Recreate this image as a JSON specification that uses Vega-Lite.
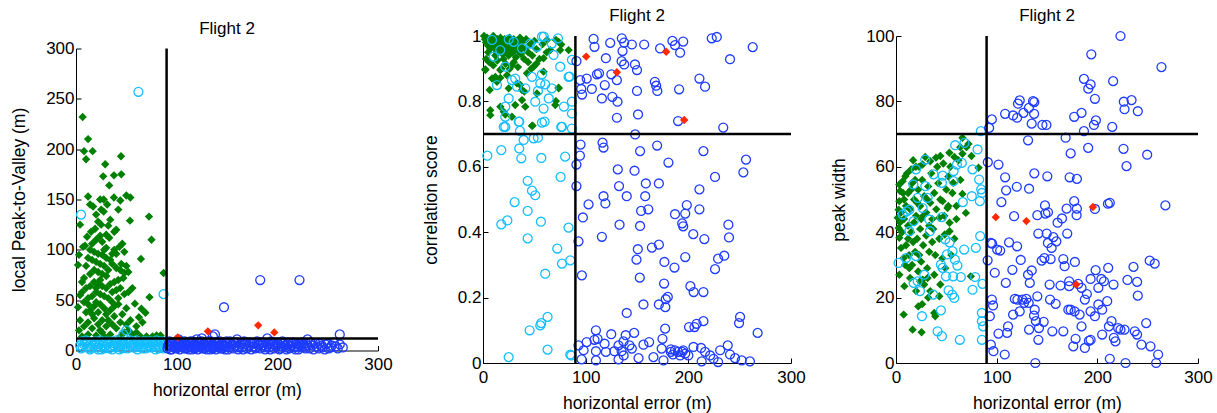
{
"$schema": "https://vega.github.io/schema/vega-lite/v6.json",
"padding": {"left": 10, "top": 7, "right": 5, "bottom": 5},
"spacing": 105,
"bounds": "flush",
"center": true,
"config": {
  "font": "Liberation Sans",
  "view": {"stroke": null},
  "axis": {"grid": false, "domainColor": "#000", "tickColor": "#000", "labelColor": "#000", "titleColor": "#000", "labelFontSize": 17, "titleFontSize": 17.5, "titleFontWeight": "normal", "tickSize": -5, "labelFlush": false, "labelOverlap": false, "labelFont": "Liberation Sans", "titleFont": "Liberation Sans"},
  "axisX": {"titlePadding": 9, "labelPadding": 11},
  "axisY": {"titlePadding": 17, "labelPadding": 7},
  "title": {"fontSize": 17, "fontWeight": "normal", "color": "#000", "offset": 2, "font": "Liberation Sans"}
},
"datasets": {
"p1g": [{"x":6.6,"y":232},{"x":12,"y":210},{"x":8,"y":198},{"x":16.5,"y":198},{"x":10,"y":190},{"x":29,"y":185},{"x":44.7,"y":193},{"x":37.7,"y":174},{"x":45,"y":175},{"x":27,"y":173},{"x":33,"y":164},{"x":12,"y":153},{"x":24,"y":150},{"x":27.5,"y":150},{"x":37.7,"y":152},{"x":44,"y":149},{"x":50,"y":154},{"x":54,"y":152},{"x":14,"y":145},{"x":17,"y":143},{"x":25,"y":140},{"x":27.5,"y":138},{"x":72.5,"y":133},{"x":53.6,"y":129},{"x":22,"y":128},{"x":32,"y":124},{"x":4,"y":125},{"x":75,"y":110},{"x":19,"y":121},{"x":11,"y":113},{"x":24,"y":114},{"x":30,"y":115},{"x":7,"y":103},{"x":43,"y":103},{"x":46,"y":106},{"x":64.5,"y":91},{"x":3,"y":95},{"x":2,"y":85},{"x":50,"y":84},{"x":48,"y":77},{"x":87,"y":77},{"x":73,"y":53},{"x":58.5,"y":46.5},{"x":65,"y":41.5},{"x":69,"y":37.5},{"x":62.5,"y":33},{"x":2,"y":43},
{"x":15,"y":118},{"x":20,"y":110},{"x":26,"y":108},{"x":33,"y":112},{"x":38,"y":100},{"x":40,"y":96},{"x":14,"y":100},{"x":18,"y":98},{"x":22,"y":96},{"x":26,"y":95},{"x":30,"y":92},{"x":34,"y":90},{"x":12,"y":92},{"x":16,"y":90},{"x":20,"y":88},{"x":24,"y":86},{"x":28,"y":84},{"x":10,"y":84},{"x":36,"y":86},{"x":40,"y":82},{"x":44,"y":80},{"x":47,"y":72},{"x":42,"y":70},{"x":38,"y":68},{"x":8,"y":72},{"x":6,"y":68},{"x":18,"y":80},{"x":22,"y":78},{"x":26,"y":76},{"x":30,"y":74},{"x":14,"y":76},{"x":34,"y":66},{"x":30,"y":62},{"x":26,"y":64},{"x":22,"y":66},{"x":18,"y":68},{"x":14,"y":64},{"x":10,"y":62},{"x":6,"y":58},{"x":20,"y":58},{"x":24,"y":56},{"x":28,"y":54},{"x":16,"y":54},{"x":12,"y":52},{"x":32,"y":52},{"x":36,"y":58},{"x":40,"y":60},{"x":44,"y":62},{"x":48,"y":56},{"x":52,"y":58},{"x":20,"y":48},{"x":24,"y":46},{"x":18,"y":44},{"x":28,"y":42},{"x":14,"y":40},{"x":10,"y":38},{"x":22,"y":38},{"x":30,"y":36},{"x":34,"y":40},{"x":38,"y":44},{"x":42,"y":46},{"x":50,"y":42},{"x":46,"y":36},{"x":54,"y":30},{"x":26,"y":30},{"x":18,"y":32},{"x":12,"y":28},{"x":8,"y":24},{"x":16,"y":22},{"x":22,"y":26},{"x":30,"y":24},{"x":36,"y":26},{"x":40,"y":22},{"x":44,"y":28},{"x":48,"y":18},{"x":52,"y":20},{"x":56,"y":16},{"x":60,"y":18},{"x":64,"y":14},{"x":70,"y":14},{"x":76,"y":14},{"x":84,"y":15},{"x":6,"y":14},{"x":12,"y":16},{"x":20,"y":15},{"x":28,"y":14},{"x":34,"y":16},{"x":24,"y":20},{"x":32,"y":30},{"x":38,"y":34},{"x":4,"y":30},{"x":30,"y":102},{"x":36,"y":96},{"x":32,"y":80},{"x":24,"y":70},{"x":42,"y":52},{"x":8,"y":48},{"x":16,"y":36},{"x":26,"y":18},{"x":50,"y":26},{"x":60,"y":24},{"x":66,"y":28},{"x":3,"y":20},{"x":80,"y":15},{"x":44,"y":14},{"x":28,"y":100},{"x":16,"y":106},{"x":34,"y":130},{"x":40,"y":120},{"x":20,"y":135},{"x":31,"y":145},{"x":38,"y":118},{"x":48,"y":98},{"x":52,"y":78},{"x":56,"y":62},{"x":20,"y":62},{"x":12,"y":46},{"x":36,"y":48},{"x":4,"y":55},{"x":9,"y":104},{"x":25,"y":125},{"x":42,"y":140},{"x":45,"y":86}],
"p1c": [{"x":5,"y":135},{"x":62,"y":257},{"x":87,"y":56},{"x":50,"y":20},{"x":47,"y":16},{"x":4,"y":5},{"x":7,"y":3},{"x":9,"y":8},{"x":11,"y":4},{"x":13,"y":2},{"x":15,"y":7},{"x":17,"y":5},{"x":19,"y":9},{"x":21,"y":3},{"x":23,"y":6},{"x":25,"y":1},{"x":27,"y":8},{"x":29,"y":4},{"x":31,"y":6},{"x":33,"y":2},{"x":35,"y":9},{"x":37,"y":5},{"x":39,"y":3},{"x":41,"y":7},{"x":43,"y":1},{"x":45,"y":6},{"x":47,"y":9},{"x":49,"y":4},{"x":51,"y":2},{"x":53,"y":7},{"x":55,"y":5},{"x":57,"y":8},{"x":59,"y":3},{"x":61,"y":1},{"x":63,"y":6},{"x":65,"y":4},{"x":67,"y":9},{"x":69,"y":2},{"x":71,"y":7},{"x":73,"y":5},{"x":75,"y":3},{"x":77,"y":8},{"x":79,"y":1},{"x":81,"y":6},{"x":83,"y":4},{"x":85,"y":9},{"x":87,"y":2},{"x":89,"y":5},{"x":6,"y":9},{"x":14,"y":1},{"x":24,"y":10},{"x":34,"y":4},{"x":44,"y":3},{"x":54,"y":10},{"x":64,"y":8},{"x":74,"y":9},{"x":84,"y":7},{"x":88,"y":8},{"x":10,"y":10},{"x":20,"y":6},{"x":30,"y":9},{"x":40,"y":10},{"x":60,"y":10},{"x":80,"y":10},{"x":50,"y":8},
{"x":5,"y":2},{"x":8,"y":6},{"x":12,"y":9},{"x":16,"y":3},{"x":18,"y":7},{"x":22,"y":1},{"x":26,"y":5},{"x":28,"y":2},{"x":32,"y":8},{"x":36,"y":1},{"x":38,"y":7},{"x":42,"y":5},{"x":46,"y":2},{"x":48,"y":6},{"x":52,"y":9},{"x":56,"y":3},{"x":58,"y":6},{"x":62,"y":4},{"x":66,"y":2},{"x":68,"y":6},{"x":70,"y":9},{"x":72,"y":3},{"x":76,"y":6},{"x":78,"y":4},{"x":82,"y":2},{"x":86,"y":5},{"x":89,"y":9}],
"p1b": [{"x":183,"y":70},{"x":222,"y":70},{"x":147,"y":43},{"x":138,"y":16},{"x":190,"y":12},{"x":262,"y":16},{"x":265,"y":3},{"x":125,"y":12},{"x":102,"y":11},{"x":136,"y":14},{"x":120,"y":11},{"x":160,"y":11},{"x":230,"y":11},
{"x":91,"y":2},{"x":92,"y":6},{"x":93,"y":9},{"x":94,"y":4},{"x":95,"y":1},{"x":96,"y":7},{"x":97,"y":3},{"x":98,"y":8},{"x":99,"y":5},{"x":100,"y":2},{"x":101,"y":9},{"x":102,"y":6},{"x":103,"y":1},{"x":104,"y":4},{"x":105,"y":8},{"x":106,"y":3},{"x":107,"y":6},{"x":108,"y":9},{"x":109,"y":2},{"x":110,"y":5},{"x":111,"y":8},{"x":112,"y":1},{"x":113,"y":4},{"x":114,"y":7},{"x":115,"y":3},{"x":116,"y":9},{"x":117,"y":6},{"x":118,"y":2},{"x":119,"y":5},{"x":120,"y":8},{"x":121,"y":1},{"x":122,"y":4},{"x":123,"y":7},{"x":124,"y":3},{"x":125,"y":9},{"x":126,"y":6},{"x":127,"y":2},{"x":128,"y":5},{"x":129,"y":8},{"x":130,"y":1},{"x":131,"y":4},{"x":132,"y":7},{"x":133,"y":3},{"x":134,"y":9},{"x":135,"y":6},{"x":136,"y":2},{"x":137,"y":5},{"x":138,"y":8},{"x":139,"y":1},{"x":140,"y":4},{"x":141,"y":7},{"x":142,"y":3},{"x":143,"y":9},{"x":144,"y":6},{"x":145,"y":2},{"x":146,"y":5},{"x":147,"y":8},{"x":148,"y":1},{"x":149,"y":4},{"x":150,"y":7},{"x":152,"y":3},{"x":153,"y":9},{"x":155,"y":6},{"x":156,"y":2},{"x":158,"y":5},{"x":159,"y":8},{"x":161,"y":1},{"x":162,"y":4},{"x":164,"y":7},{"x":165,"y":3},{"x":167,"y":9},{"x":168,"y":6},{"x":170,"y":2},{"x":171,"y":5},{"x":173,"y":8},{"x":174,"y":1},{"x":176,"y":4},{"x":177,"y":7},{"x":179,"y":3},{"x":180,"y":9},{"x":182,"y":6},{"x":183,"y":2},{"x":185,"y":5},{"x":186,"y":8},{"x":188,"y":1},{"x":189,"y":4},{"x":191,"y":7},{"x":192,"y":3},{"x":194,"y":9},{"x":195,"y":6},{"x":197,"y":2},{"x":198,"y":5},{"x":200,"y":8},{"x":202,"y":1},{"x":204,"y":4},{"x":206,"y":7},{"x":208,"y":3},{"x":210,"y":6},{"x":212,"y":2},{"x":214,"y":5},{"x":216,"y":8},{"x":218,"y":1},{"x":220,"y":4},{"x":222,"y":7},{"x":224,"y":3},{"x":226,"y":6},{"x":228,"y":2},{"x":230,"y":5},{"x":233,"y":8},{"x":236,"y":1},{"x":239,"y":4},{"x":242,"y":7},{"x":245,"y":3},{"x":248,"y":6},{"x":251,"y":2},{"x":254,"y":5},{"x":258,"y":4},{"x":262,"y":6},
{"x":91.5,"y":5},{"x":93.5,"y":1},{"x":95.5,"y":8},{"x":97.5,"y":4},{"x":99.5,"y":7},{"x":101.5,"y":3},{"x":103.5,"y":9},{"x":105.5,"y":5},{"x":107.5,"y":2},{"x":109.5,"y":7},{"x":111.5,"y":4},{"x":113.5,"y":9},{"x":115.5,"y":1},{"x":117.5,"y":6},{"x":119.5,"y":3},{"x":121.5,"y":8},{"x":123.5,"y":5},{"x":125.5,"y":2},{"x":127.5,"y":7},{"x":129.5,"y":4},{"x":131.5,"y":9},{"x":133.5,"y":1},{"x":135.5,"y":6},{"x":137.5,"y":3},{"x":139.5,"y":8},{"x":141.5,"y":5},{"x":143.5,"y":2},{"x":145.5,"y":7},{"x":147.5,"y":4},{"x":149.5,"y":9},{"x":151,"y":1},{"x":154,"y":5},{"x":157,"y":8},{"x":160,"y":3},{"x":163,"y":6},{"x":166,"y":1},{"x":169,"y":8},{"x":172,"y":4},{"x":175,"y":7},{"x":178,"y":2},{"x":181,"y":5},{"x":184,"y":8},{"x":187,"y":3},{"x":190,"y":6},{"x":193,"y":1},{"x":196,"y":8},{"x":199,"y":4},{"x":201,"y":6},{"x":203,"y":2},{"x":205,"y":9},{"x":207,"y":5},{"x":209,"y":1},{"x":211,"y":8},{"x":213,"y":4},{"x":215,"y":7},{"x":217,"y":3},{"x":219,"y":6},{"x":221,"y":1},{"x":223,"y":5},{"x":225,"y":8},{"x":227,"y":4},{"x":229,"y":7},{"x":232,"y":2},{"x":235,"y":5},{"x":238,"y":7},{"x":241,"y":2},{"x":244,"y":5},{"x":247,"y":1},{"x":250,"y":7},{"x":253,"y":3},{"x":256,"y":8},{"x":260,"y":2}],
"p1r": [{"x":101,"y":13},{"x":131,"y":19},{"x":181,"y":25},{"x":197,"y":18}],
"p2g": [{"x":2.2,"y":0.898},{"x":12,"y":0.875},{"x":13.6,"y":0.86},{"x":7.1,"y":0.758},{"x":20.2,"y":0.768},{"x":31.4,"y":0.789},{"x":28.2,"y":0.753},{"x":41.2,"y":0.784},{"x":47.7,"y":0.725},{"x":70.4,"y":0.789},{"x":73.7,"y":0.84},{"x":38,"y":0.804},{"x":38,"y":0.835},{"x":33.1,"y":0.855},{"x":42.8,"y":0.886},{"x":49.3,"y":0.906},{"x":59,"y":0.932},{"x":65.5,"y":0.957},{"x":75.2,"y":0.957},{"x":83.4,"y":0.957},{"x":73.7,"y":0.982},{"x":62.3,"y":0.988},{"x":16.8,"y":0.896},{"x":23.4,"y":0.88},{"x":25,"y":0.84},{"x":2.3,"y":0.896},{"x":6.5,"y":0.835},{"x":7.1,"y":0.773},{"x":16.9,"y":0.784},{"x":21.7,"y":0.76},{"x":48.3,"y":0.726},{"x":8.8,"y":0.87},{"x":16.9,"y":0.872},{"x":36.3,"y":0.85},{"x":40.2,"y":0.83},{"x":52.5,"y":0.824},{"x":59,"y":0.891},{"x":71,"y":0.801},{"x":73.6,"y":0.842},{"x":71,"y":0.988},{"x":76.2,"y":0.974},
{"x":1,"y":1.0},{"x":2,"y":0.99},{"x":3,"y":0.98},{"x":4,"y":0.995},{"x":5,"y":0.97},{"x":6,"y":0.985},{"x":7,"y":0.96},{"x":8,"y":0.99},{"x":9,"y":0.975},{"x":10,"y":1.0},{"x":11,"y":0.965},{"x":12,"y":0.985},{"x":13,"y":0.95},{"x":14,"y":0.99},{"x":15,"y":0.975},{"x":16,"y":0.96},{"x":17,"y":0.995},{"x":18,"y":0.98},{"x":19,"y":0.945},{"x":20,"y":0.97},{"x":21,"y":0.99},{"x":22,"y":0.955},{"x":23,"y":0.985},{"x":24,"y":0.97},{"x":25,"y":0.94},{"x":26,"y":0.995},{"x":27,"y":0.96},{"x":28,"y":0.98},{"x":29,"y":0.95},{"x":30,"y":0.99},{"x":31,"y":0.97},{"x":32,"y":0.935},{"x":33,"y":0.985},{"x":34,"y":0.955},{"x":35,"y":0.975},{"x":36,"y":0.995},{"x":37,"y":0.945},{"x":38,"y":0.965},{"x":39,"y":0.985},{"x":40,"y":0.93},{"x":41,"y":0.96},{"x":42,"y":0.99},{"x":44,"y":0.95},{"x":46,"y":0.975},{"x":48,"y":0.94},{"x":50,"y":0.985},{"x":52,"y":0.96},{"x":55,"y":0.93},{"x":58,"y":0.975},{"x":62,"y":0.95},{"x":3,"y":0.93},{"x":6,"y":0.92},{"x":10,"y":0.91},{"x":14,"y":0.925},{"x":18,"y":0.9},{"x":22,"y":0.915},{"x":26,"y":0.9},{"x":30,"y":0.92},{"x":34,"y":0.905},{"x":5,"y":0.95},{"x":12,"y":0.94},{"x":20,"y":0.93},{"x":28,"y":0.91},{"x":44,"y":0.92},{"x":47,"y":0.9},{"x":52,"y":0.915}],
"p2c": [{"x":4.2,"y":0.634},{"x":17.8,"y":0.651},{"x":17.8,"y":0.424},{"x":23.7,"y":0.436},{"x":30.8,"y":0.492},{"x":37.3,"y":0.626},{"x":35.3,"y":0.656},{"x":39.6,"y":0.682},{"x":36,"y":0.71},{"x":35.3,"y":0.738},{"x":43.5,"y":0.557},{"x":47.7,"y":0.527},{"x":50.9,"y":0.513},{"x":43.5,"y":0.465},{"x":43.5,"y":0.381},{"x":56.4,"y":0.432},{"x":60.6,"y":0.273},{"x":56.7,"y":0.122},{"x":55.8,"y":0.115},{"x":62.9,"y":0.141},{"x":45.4,"y":0.1},{"x":62.9,"y":0.041},{"x":25,"y":0.018},{"x":72.3,"y":0.35},{"x":76.9,"y":0.304},{"x":83.3,"y":0.414},{"x":85,"y":0.314},{"x":75.6,"y":0.569},{"x":80,"y":0.631},{"x":56.8,"y":0.627},{"x":49.3,"y":0.687},{"x":53.5,"y":0.689},{"x":60,"y":0.738},{"x":76.9,"y":0.722},{"x":86.6,"y":0.717},{"x":21.7,"y":0.722},{"x":85,"y":0.026},{"x":86,"y":0.023},
{"x":57.4,"y":0.998},{"x":67,"y":0.977},{"x":29.9,"y":0.982},{"x":46,"y":0.977},{"x":16.8,"y":0.957},{"x":10.4,"y":0.937},{"x":21.7,"y":0.906},{"x":31.4,"y":0.87},{"x":47.7,"y":0.875},{"x":55.8,"y":0.855},{"x":13.6,"y":0.85},{"x":67,"y":0.84},{"x":75.2,"y":0.906},{"x":83.4,"y":0.875},{"x":86.6,"y":0.927},{"x":64,"y":0.809},{"x":50.9,"y":0.799},{"x":59,"y":0.778},{"x":21.7,"y":0.784},{"x":21.7,"y":0.753},{"x":34.8,"y":0.738},{"x":20.2,"y":0.722},{"x":57.4,"y":0.735},{"x":76.2,"y":0.722},{"x":86.6,"y":0.763},{"x":41.2,"y":0.84},{"x":38,"y":0.962},{"x":52.6,"y":0.967},{"x":8.8,"y":0.988},{"x":25,"y":0.99},{"x":73,"y":0.993},{"x":59.3,"y":0.998},{"x":68.7,"y":0.942},{"x":84.3,"y":0.876},{"x":57.4,"y":0.883},{"x":60.6,"y":0.852},{"x":53.5,"y":0.832},{"x":78.8,"y":0.784},{"x":86.6,"y":0.799},{"x":25,"y":0.809},{"x":33.2,"y":0.845},{"x":28.2,"y":0.865}],
"p2b": [{"x":107.7,"y":0.991},{"x":108.6,"y":0.967},{"x":123.9,"y":0.979},{"x":135.2,"y":0.993},{"x":137.5,"y":0.98},{"x":135.9,"y":0.954},{"x":145,"y":0.974},{"x":157,"y":0.974},{"x":172.5,"y":0.962},{"x":184.5,"y":0.985},{"x":187,"y":0.972},{"x":195,"y":0.983},{"x":192,"y":0.949},{"x":222.8,"y":0.993},{"x":227.7,"y":0.997},{"x":262.7,"y":0.966},{"x":240.6,"y":0.929},{"x":91,"y":0.923},{"x":119.7,"y":0.932},{"x":135,"y":0.923},{"x":137.5,"y":0.913},{"x":148,"y":0.913},{"x":150,"y":0.896},{"x":94.7,"y":0.865},{"x":101,"y":0.87},{"x":111,"y":0.883},{"x":113,"y":0.886},{"x":125,"y":0.883},{"x":130.4,"y":0.865},{"x":118.6,"y":0.85},{"x":106,"y":0.838},{"x":95.7,"y":0.838},{"x":96.5,"y":0.821},{"x":115.8,"y":0.809},{"x":126,"y":0.814},{"x":131,"y":0.799},{"x":150,"y":0.832},{"x":167.4,"y":0.86},{"x":168.7,"y":0.848},{"x":169.8,"y":0.832},{"x":191,"y":0.837},{"x":210.8,"y":0.87},{"x":216.3,"y":0.845},{"x":130.4,"y":0.75},{"x":151,"y":0.76},{"x":190,"y":0.74},{"x":234,"y":0.72},{"x":148.2,"y":0.699},{"x":95,"y":0.668},{"x":94.4,"y":0.634},{"x":91,"y":0.607},{"x":91,"y":0.541},{"x":116.4,"y":0.674},{"x":117.4,"y":0.659},{"x":153,"y":0.648},{"x":169.6,"y":0.665},{"x":180.6,"y":0.613},{"x":214.7,"y":0.648},{"x":256.2,"y":0.622},{"x":253.6,"y":0.583},{"x":226,"y":0.569},{"x":210.8,"y":0.531},{"x":131.3,"y":0.592},{"x":147.6,"y":0.588},{"x":132.5,"y":0.541},{"x":140,"y":0.51},{"x":117.4,"y":0.51},{"x":119.2,"y":0.488},{"x":102.8,"y":0.485},{"x":97.3,"y":0.445},{"x":158.6,"y":0.549},{"x":158,"y":0.51},{"x":154,"y":0.465},{"x":161,"y":0.47},{"x":171.3,"y":0.549},{"x":187,"y":0.455},{"x":197,"y":0.457},{"x":198.5,"y":0.483},{"x":194,"y":0.427},{"x":195,"y":0.418},{"x":210.8,"y":0.47},{"x":204.8,"y":0.394},{"x":215.6,"y":0.379},{"x":239,"y":0.423},{"x":239.6,"y":0.384},{"x":133,"y":0.423},{"x":153,"y":0.419},{"x":115.8,"y":0.386},{"x":93,"y":0.372},{"x":150.8,"y":0.348},{"x":149.5,"y":0.316},{"x":164.5,"y":0.353},{"x":171.3,"y":0.362},{"x":176.7,"y":0.309},{"x":186.5,"y":0.292},{"x":197,"y":0.324},{"x":229,"y":0.319},{"x":235,"y":0.328},{"x":226,"y":0.287},{"x":96.3,"y":0.268},{"x":152.7,"y":0.261},{"x":176.4,"y":0.243},{"x":202,"y":0.235},{"x":205.2,"y":0.217},{"x":214.7,"y":0.217},{"x":180,"y":0.202},{"x":178,"y":0.195},{"x":171.3,"y":0.179},{"x":177.6,"y":0.171},{"x":156.3,"y":0.179},{"x":140,"y":0.153},{"x":250.4,"y":0.141},{"x":249.4,"y":0.122},{"x":267.5,"y":0.092},{"x":214.7,"y":0.128},{"x":208,"y":0.12},{"x":206,"y":0.11},{"x":200.7,"y":0.11},{"x":177.4,"y":0.105},{"x":147.2,"y":0.092},{"x":124.9,"y":0.088},{"x":110,"y":0.1},{"x":111.6,"y":0.074},{"x":108.6,"y":0.071},{"x":101,"y":0.064},{"x":93,"y":0.054},{"x":98,"y":0.039},{"x":110,"y":0.036},{"x":118.4,"y":0.059},{"x":119.7,"y":0.034},{"x":128,"y":0.036},{"x":132,"y":0.054},{"x":136.9,"y":0.066},{"x":139,"y":0.085},{"x":142.7,"y":0.054},{"x":145,"y":0.044},{"x":135,"y":0.036},{"x":137,"y":0.023},{"x":132,"y":0.011},{"x":156.3,"y":0.056},{"x":161.8,"y":0.064},{"x":166,"y":0.018},{"x":174,"y":0.044},{"x":174.8,"y":0.074},{"x":183,"y":0.042},{"x":185,"y":0.026},{"x":183,"y":0.034},{"x":187,"y":0.039},{"x":190,"y":0.034},{"x":192,"y":0.023},{"x":194,"y":0.034},{"x":197,"y":0.029},{"x":200,"y":0.023},{"x":195,"y":0.039},{"x":205,"y":0.049},{"x":212.4,"y":0.046},{"x":216.3,"y":0.034},{"x":221.2,"y":0.023},{"x":224.5,"y":0.013},{"x":231,"y":0.039},{"x":238.4,"y":0.054},{"x":240.6,"y":0.026},{"x":245.5,"y":0.015},{"x":252,"y":0.008},{"x":260,"y":0.005},{"x":175.8,"y":0.008},{"x":151.5,"y":0.015},{"x":110,"y":0.008},{"x":96,"y":0.011},{"x":213,"y":0.005},{"x":229,"y":0.003}],
"p2r": [{"x":100.5,"y":0.937},{"x":130.4,"y":0.889},{"x":178.4,"y":0.952},{"x":196,"y":0.743}],
"p3g": [{"x":66,"y":68.9},{"x":72,"y":67},{"x":63.8,"y":66},{"x":53,"y":64.3},{"x":44,"y":63.3},{"x":39.7,"y":62.8},{"x":34,"y":61.7},{"x":26.4,"y":60.7},{"x":19.8,"y":60},{"x":15,"y":59.2},{"x":9.3,"y":57.1},{"x":6.6,"y":55.6},{"x":3.3,"y":54.6},{"x":4,"y":52.6},{"x":3.3,"y":49.5},{"x":2.6,"y":46.9},{"x":1.7,"y":44.4},{"x":2.6,"y":41.3},{"x":3.3,"y":38.3},{"x":5,"y":35.2},{"x":7.6,"y":32.1},{"x":3.3,"y":27},{"x":8.3,"y":23.5},{"x":7.6,"y":14.8},{"x":16.5,"y":10.2},{"x":25.4,"y":9.4},{"x":22.1,"y":17.3},{"x":38,"y":15.3},{"x":39,"y":14.3},{"x":43,"y":20.4},{"x":26.4,"y":25.5},{"x":31.4,"y":26},{"x":13.2,"y":29},{"x":69.4,"y":45.9},{"x":66,"y":51.7},{"x":82,"y":59.7},{"x":75,"y":63.3},{"x":74.3,"y":26.5},{"x":56.8,"y":55.1},{"x":51.2,"y":47.4},{"x":46.3,"y":49.5},{"x":43,"y":44.4},{"x":53.2,"y":42.9},{"x":53.2,"y":40.3},{"x":48.4,"y":39.3},
{"x":8,"y":50},{"x":10,"y":48},{"x":12,"y":52},{"x":14,"y":47},{"x":16,"y":55},{"x":18,"y":50},{"x":20,"y":45},{"x":22,"y":53},{"x":24,"y":48},{"x":26,"y":56},{"x":28,"y":51},{"x":30,"y":46},{"x":32,"y":54},{"x":34,"y":49},{"x":36,"y":44},{"x":38,"y":52},{"x":40,"y":47},{"x":42,"y":55},{"x":12,"y":42},{"x":15,"y":40},{"x":18,"y":43},{"x":21,"y":38},{"x":24,"y":41},{"x":27,"y":36},{"x":30,"y":39},{"x":33,"y":34},{"x":36,"y":37},{"x":10,"y":36},{"x":13,"y":33},{"x":16,"y":30},{"x":19,"y":34},{"x":22,"y":28},{"x":25,"y":31},{"x":28,"y":24},{"x":31,"y":29},{"x":34,"y":22},{"x":8,"y":44},{"x":6,"y":40},{"x":11,"y":58},{"x":17,"y":62},{"x":23,"y":60},{"x":29,"y":63},{"x":35,"y":58},{"x":41,"y":60},{"x":47,"y":61},{"x":52,"y":57},{"x":19,"y":56},{"x":25,"y":44},{"x":31,"y":50},{"x":37,"y":41},{"x":43,"y":38},{"x":46,"y":32},{"x":14,"y":26},{"x":20,"y":22},{"x":26,"y":18},{"x":32,"y":20},{"x":38,"y":27},{"x":44,"y":24},{"x":49,"y":29},{"x":55,"y":33},{"x":58,"y":38},{"x":60,"y":44},{"x":56,"y":52},{"x":50,"y":53},{"x":9,"y":30},{"x":5,"y":46},{"x":15,"y":53},{"x":21,"y":49},{"x":27,"y":45},{"x":33,"y":42},{"x":39,"y":33},{"x":17,"y":37},{"x":23,"y":33},{"x":4,"y":43},{"x":7,"y":52},{"x":12,"y":38},{"x":24,"y":25},{"x":44,"y":50},{"x":48,"y":45},{"x":52,"y":48},{"x":62,"y":62},{"x":58,"y":63},{"x":54,"y":60},{"x":66,"y":64},{"x":70,"y":66},{"x":60,"y":48},{"x":64,"y":56}],
"p3c": [{"x":84.3,"y":70.9},{"x":81,"y":65.3},{"x":58.8,"y":66.6},{"x":68,"y":67.3},{"x":76,"y":59.2},{"x":84.6,"y":53.1},{"x":85.4,"y":52},{"x":83.3,"y":49.5},{"x":75.3,"y":51},{"x":66.4,"y":49.2},{"x":65.4,"y":61.2},{"x":60.5,"y":60.7},{"x":57.2,"y":58.7},{"x":45.6,"y":55.1},{"x":46.3,"y":57.3},{"x":19.8,"y":59.2},{"x":17.2,"y":54.6},{"x":21.5,"y":50.5},{"x":29.1,"y":54.1},{"x":31.4,"y":50.5},{"x":26.4,"y":47.4},{"x":13.2,"y":46.9},{"x":10.6,"y":46.4},{"x":17.5,"y":43.4},{"x":33,"y":43.9},{"x":45.6,"y":44.6},{"x":33.7,"y":40.3},{"x":48.9,"y":37.8},{"x":53.2,"y":36.9},{"x":56.1,"y":34.2},{"x":58.5,"y":31.6},{"x":50.6,"y":33.2},{"x":44.6,"y":30.1},{"x":46.3,"y":29.1},{"x":49.6,"y":26.5},{"x":56.8,"y":26.5},{"x":61,"y":29.8},{"x":64.4,"y":26.3},{"x":78.6,"y":26.3},{"x":83.6,"y":38.8},{"x":79.3,"y":35.2},{"x":85.9,"y":24.2},{"x":76,"y":22.4},{"x":52.2,"y":22.2},{"x":57.9,"y":19.9},{"x":55.8,"y":20.9},{"x":37,"y":20.9},{"x":44.6,"y":16.1},{"x":25.8,"y":14.3},{"x":41.3,"y":9.7},{"x":45.6,"y":8.2},{"x":63.4,"y":7.1},{"x":85.3,"y":7.1},{"x":85.3,"y":12.8},{"x":86.6,"y":11.2},{"x":85.3,"y":15.3},{"x":2.6,"y":30.6},{"x":9.9,"y":32.1},{"x":19.8,"y":32.7},{"x":21.5,"y":25},{"x":23.8,"y":22},{"x":28.1,"y":27},{"x":13.2,"y":40.3},{"x":6.6,"y":45.4},{"x":37.3,"y":57.7},{"x":29.1,"y":62.2},{"x":67.7,"y":34.7},{"x":57.2,"y":55.6},{"x":82.6,"y":56.1},{"x":17.5,"y":24.5}],
"p3b": [{"x":223,"y":100},{"x":194,"y":94.4},{"x":263.7,"y":90.5},{"x":215.7,"y":86.2},{"x":186.7,"y":86.9},{"x":193.3,"y":85.2},{"x":191,"y":83.9},{"x":197.6,"y":80.8},{"x":226.3,"y":79.9},{"x":234,"y":80.4},{"x":227,"y":77.6},{"x":240.2,"y":77},{"x":122.9,"y":80.3},{"x":121.2,"y":79.3},{"x":136.1,"y":80.1},{"x":137.4,"y":79.8},{"x":132,"y":78},{"x":108.4,"y":76.2},{"x":116.3,"y":75.7},{"x":120.3,"y":75},{"x":126.6,"y":76.5},{"x":137.2,"y":76.2},{"x":95.2,"y":74.5},{"x":177,"y":75.3},{"x":184.3,"y":76.5},{"x":198.6,"y":74.2},{"x":196.6,"y":72.8},{"x":134.8,"y":73.2},{"x":145.4,"y":72.8},{"x":149.4,"y":72.8},{"x":214.8,"y":72.2},{"x":92.5,"y":71.9},{"x":186.7,"y":70.9},{"x":168.5,"y":68.9},{"x":131.2,"y":68.1},{"x":190.9,"y":65.8},{"x":226,"y":65.5},{"x":173.5,"y":64.1},{"x":249.5,"y":63.7},{"x":229,"y":60.2},{"x":91.2,"y":61.4},{"x":101.8,"y":60.7},{"x":108.4,"y":56.8},{"x":120,"y":53.9},{"x":109.4,"y":52.8},{"x":132.2,"y":53.3},{"x":137.4,"y":58},{"x":150.3,"y":57.1},{"x":172.5,"y":56.8},{"x":179.7,"y":56.3},{"x":104.7,"y":49.2},{"x":148,"y":48.2},{"x":177,"y":49.5},{"x":179.7,"y":47.2},{"x":179.4,"y":45.2},{"x":148.4,"y":45.7},{"x":151,"y":46.1},{"x":117.3,"y":44.9},{"x":140.4,"y":45.2},{"x":169.5,"y":47.2},{"x":210.5,"y":48.7},{"x":212.4,"y":49},{"x":197.6,"y":47.1},{"x":267.6,"y":48.2},{"x":164.9,"y":44.2},{"x":160.5,"y":42.9},{"x":141.4,"y":39.6},{"x":149.7,"y":39.6},{"x":170.1,"y":39.6},{"x":156.3,"y":38.5},{"x":159.3,"y":37.2},{"x":150.9,"y":36.7},{"x":154.6,"y":35.2},{"x":94.2,"y":36.7},{"x":95.5,"y":36.5},{"x":100.5,"y":34.7},{"x":103.5,"y":34.4},{"x":112.3,"y":36.9},{"x":120.3,"y":35.7},{"x":91,"y":31.4},{"x":98.1,"y":27.6},{"x":115.6,"y":28.5},{"x":123.9,"y":31.5},{"x":134.8,"y":28.3},{"x":131.2,"y":27},{"x":132.9,"y":24.5},{"x":144.7,"y":31.3},{"x":147.4,"y":32.1},{"x":153.6,"y":31.8},{"x":166.2,"y":31.8},{"x":167.5,"y":29.6},{"x":177.7,"y":30.9},{"x":109.1,"y":24.5},{"x":152.6,"y":24},{"x":163.4,"y":23.7},{"x":172,"y":25},{"x":172,"y":23.5},{"x":181,"y":24.2},{"x":184.3,"y":23},{"x":193.3,"y":25.7},{"x":198.3,"y":28.4},{"x":201,"y":23},{"x":204,"y":25.7},{"x":206.6,"y":25},{"x":210.8,"y":29.1},{"x":216.1,"y":24},{"x":229.9,"y":25.4},{"x":235.9,"y":29.4},{"x":239.5,"y":24.8},{"x":240.2,"y":20.6},{"x":252,"y":31.3},{"x":257,"y":30.4},{"x":95.2,"y":19.4},{"x":96.4,"y":17.6},{"x":93.2,"y":14.3},{"x":94.2,"y":5.6},{"x":96.8,"y":3.6},{"x":101.8,"y":9},{"x":111.3,"y":11.2},{"x":110.3,"y":9.2},{"x":108,"y":2.6},{"x":118,"y":19.6},{"x":116.3,"y":14.8},{"x":122.9,"y":15.8},{"x":120.6,"y":19.4},{"x":127.2,"y":18.4},{"x":125.6,"y":19.4},{"x":129.5,"y":19.6},{"x":131.8,"y":18.4},{"x":132.2,"y":10.2},{"x":137.8,"y":16.3},{"x":137.1,"y":14.5},{"x":139,"y":12.8},{"x":142,"y":10.7},{"x":146.7,"y":12.6},{"x":140.4,"y":20.4},{"x":141.4,"y":7.1},{"x":138.4,"y":0},{"x":155.3,"y":9.7},{"x":153,"y":19.4},{"x":158.6,"y":18.1},{"x":166.2,"y":9.7},{"x":171.2,"y":16.3},{"x":173.5,"y":16.3},{"x":177.4,"y":15.8},{"x":176.1,"y":5.1},{"x":178.4,"y":7.4},{"x":182.4,"y":14.8},{"x":184.3,"y":11.2},{"x":187.6,"y":19.4},{"x":189.6,"y":21.1},{"x":187.6,"y":4.6},{"x":191.6,"y":6.8},{"x":193.3,"y":7.1},{"x":193.3,"y":15.8},{"x":197.6,"y":14.3},{"x":201,"y":17.9},{"x":204.8,"y":16.3},{"x":204.8,"y":8.7},{"x":209.8,"y":18.9},{"x":211.5,"y":11.2},{"x":212.4,"y":1.3},{"x":214.1,"y":12.8},{"x":216.4,"y":7.7},{"x":218,"y":6.6},{"x":220.7,"y":10.7},{"x":223,"y":10.2},{"x":227,"y":10.2},{"x":228,"y":0},{"x":237.2,"y":9.7},{"x":239.5,"y":8.7},{"x":243.8,"y":5.6},{"x":248.5,"y":12.2},{"x":252.8,"y":5.1},{"x":260.4,"y":2.6},{"x":258.4,"y":0}],
"p3r": [{"x":99.1,"y":44.6},{"x":129.5,"y":43.4},{"x":195.6,"y":47.7},{"x":179,"y":24}]
},
"hconcat": [
{
  "width": 302, "height": 302,
  "title": "Flight 2",
  "encoding": {
    "x": {"field": "x", "type": "quantitative", "scale": {"domain": [0, 300], "nice": false}, "axis": {"values": [0, 100, 200, 300], "title": "horizontal error (m)"}},
    "y": {"field": "y", "type": "quantitative", "scale": {"domain": [0, 300], "nice": false}, "axis": {"values": [0, 50, 100, 150, 200, 250, 300], "title": "local Peak-to-Valley (m)"}}
  },
  "layer": [
    {"data": {"name": "p1g"}, "mark": {"type": "point", "shape": "diamond", "filled": true, "color": "#008000", "opacity": 1, "size": 70}},
    {"data": {"name": "p1c"}, "mark": {"type": "point", "shape": "circle", "filled": false, "color": "#14BEFF", "opacity": 1, "size": 80, "strokeWidth": 1.3}},
    {"data": {"name": "p1b"}, "mark": {"type": "point", "shape": "circle", "filled": false, "color": "#1E3CFF", "opacity": 1, "size": 80, "strokeWidth": 1.3}},
    {"data": {"name": "p1r"}, "mark": {"type": "point", "shape": "diamond", "filled": true, "color": "#FF2800", "opacity": 1, "size": 70}},
    {"data": {"values": [{"x": 90}]}, "mark": {"type": "rule", "color": "#000", "strokeWidth": 2.5}, "encoding": {"x": {"field": "x", "type": "quantitative"}, "y": null}},
    {"data": {"values": [{"y": 12}]}, "mark": {"type": "rule", "color": "#000", "strokeWidth": 2.5}, "encoding": {"y": {"field": "y", "type": "quantitative"}, "x": null}}
  ]
},
{
  "width": 308, "height": 327,
  "title": "Flight 2",
  "encoding": {
    "x": {"field": "x", "type": "quantitative", "scale": {"domain": [0, 300], "nice": false}, "axis": {"values": [0, 100, 200, 300], "title": "horizontal error (m)"}},
    "y": {"field": "y", "type": "quantitative", "scale": {"domain": [0, 1], "nice": false}, "axis": {"values": [0, 0.2, 0.4, 0.6, 0.8, 1], "format": "~g", "title": "correlation score"}}
  },
  "layer": [
    {"data": {"name": "p2g"}, "mark": {"type": "point", "shape": "diamond", "filled": true, "color": "#008000", "opacity": 1, "size": 70}},
    {"data": {"name": "p2c"}, "mark": {"type": "point", "shape": "circle", "filled": false, "color": "#14BEFF", "opacity": 1, "size": 80, "strokeWidth": 1.3}},
    {"data": {"name": "p2b"}, "mark": {"type": "point", "shape": "circle", "filled": false, "color": "#1E3CFF", "opacity": 1, "size": 80, "strokeWidth": 1.3}},
    {"data": {"name": "p2r"}, "mark": {"type": "point", "shape": "diamond", "filled": true, "color": "#FF2800", "opacity": 1, "size": 70}},
    {"data": {"values": [{"x": 90}]}, "mark": {"type": "rule", "color": "#000", "strokeWidth": 2.5}, "encoding": {"x": {"field": "x", "type": "quantitative"}, "y": null}},
    {"data": {"values": [{"y": 0.7}]}, "mark": {"type": "rule", "color": "#000", "strokeWidth": 2.5}, "encoding": {"y": {"field": "y", "type": "quantitative"}, "x": null}}
  ]
},
{
  "width": 302, "height": 327,
  "title": "Flight 2",
  "encoding": {
    "x": {"field": "x", "type": "quantitative", "scale": {"domain": [0, 300], "nice": false}, "axis": {"values": [0, 100, 200, 300], "title": "horizontal error (m)"}},
    "y": {"field": "y", "type": "quantitative", "scale": {"domain": [0, 100], "nice": false}, "axis": {"values": [0, 20, 40, 60, 80, 100], "title": "peak width"}}
  },
  "layer": [
    {"data": {"name": "p3g"}, "mark": {"type": "point", "shape": "diamond", "filled": true, "color": "#008000", "opacity": 1, "size": 70}},
    {"data": {"name": "p3c"}, "mark": {"type": "point", "shape": "circle", "filled": false, "color": "#14BEFF", "opacity": 1, "size": 80, "strokeWidth": 1.3}},
    {"data": {"name": "p3b"}, "mark": {"type": "point", "shape": "circle", "filled": false, "color": "#1E3CFF", "opacity": 1, "size": 80, "strokeWidth": 1.3}},
    {"data": {"name": "p3r"}, "mark": {"type": "point", "shape": "diamond", "filled": true, "color": "#FF2800", "opacity": 1, "size": 70}},
    {"data": {"values": [{"x": 90}]}, "mark": {"type": "rule", "color": "#000", "strokeWidth": 2.5}, "encoding": {"x": {"field": "x", "type": "quantitative"}, "y": null}},
    {"data": {"values": [{"y": 70}]}, "mark": {"type": "rule", "color": "#000", "strokeWidth": 2.5}, "encoding": {"y": {"field": "y", "type": "quantitative"}, "x": null}}
  ]
}
]
}
